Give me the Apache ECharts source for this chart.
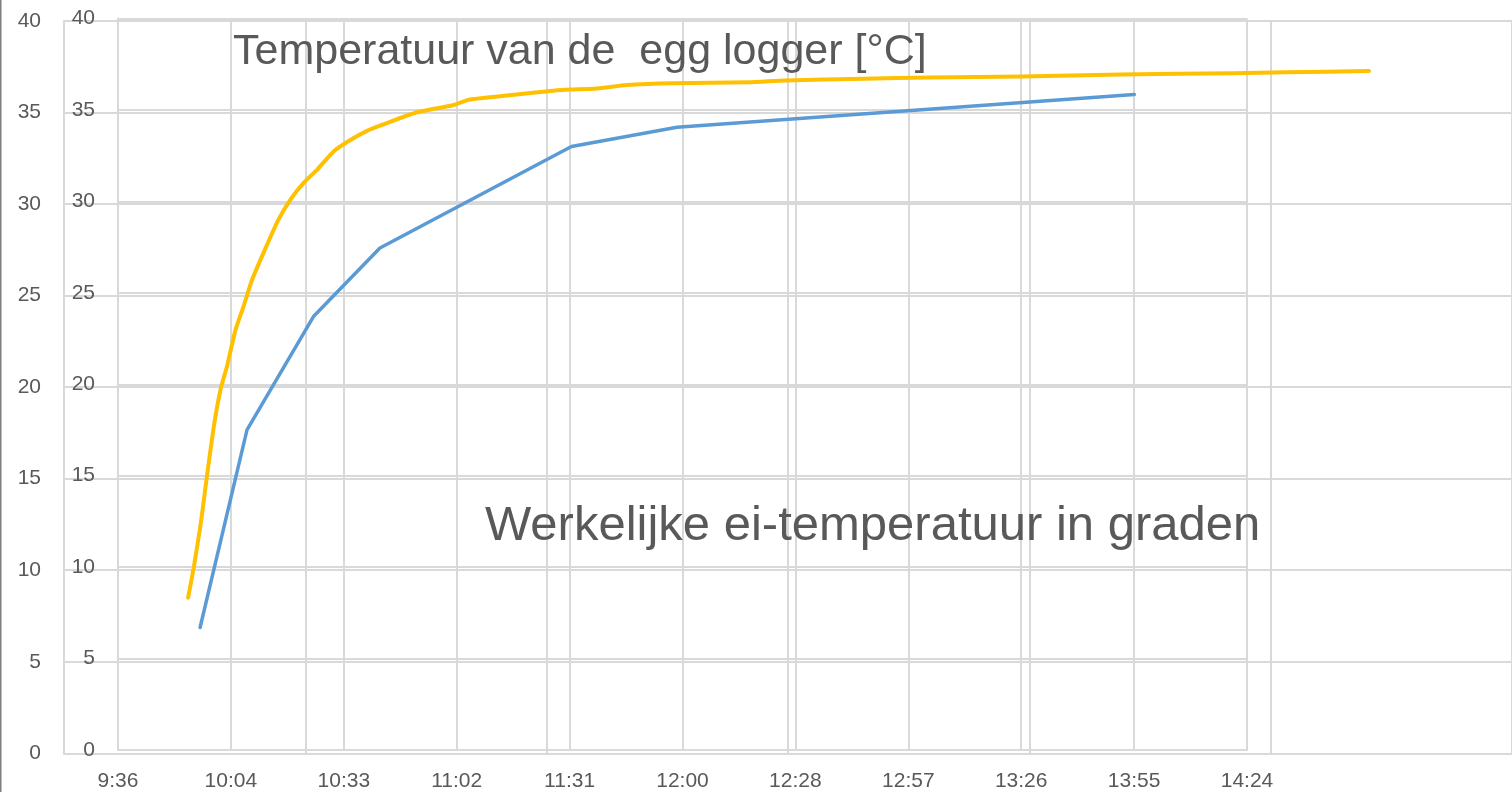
<!DOCTYPE html>
<html>
<head>
<meta charset="utf-8">
<script src="https://cdn.jsdelivr.net/npm/echarts@6/dist/echarts.min.js"></script>
<style>
html,body{margin:0;padding:0;background:#fff;}
#chart{width:1512px;height:792px;}
</style>
</head>
<body>
<div id="chart"></div>
<script>
// ---- data ----
const xTickLabels = ["9:36","10:04","10:33","11:02","11:31","12:00","12:28","12:57","13:26","13:55","14:24"];
const yTickMin = 0, yTickMax = 40, yTickStep = 5;

const loggerTitle = "Temperatuur van de  egg logger [°C]";
const eggTitle = "Werkelijke ei-temperatuur in graden";

// egg logger (yellow)
const loggerTimes = ["9:54:06","9:55:36","9:57:24","9:59:00","10:00:42","10:02:30","10:04:06","10:06:18","10:08:24","10:10:30",
  "10:13:54","10:17:18","10:20:42","10:24:06","10:27:30","10:31:48","10:36:00","10:40:18","10:44:30","10:53:00",
  "11:02:24","11:06:36","11:15:12","11:23:42","11:31:18","11:39:00","11:47:24","11:59:24","12:18:54","12:28:12",
  "12:48:42","13:05:42","13:29:24","13:54:54","14:23:54","14:37:30","14:59:00"];
const loggerValues = [8.5,10.2,12.6,15.2,17.8,19.9,21.1,23.1,24.4,25.8,
  27.5,29.1,30.3,31.2,31.9,32.9,33.5,34.0,34.35,35.0,
  35.4,35.7,35.9,36.1,36.25,36.3,36.5,36.6,36.65,36.75,
  36.85,36.92,36.97,37.08,37.15,37.2,37.27];

// real egg temperature (blue)
const eggTimes = ["9:57","10:09","10:26","10:43","11:32","11:59","13:56"];
const eggValues = [6.7,17.5,23.7,27.45,33.0,34.05,35.85];

// ---- helpers ----
function toMin(s){const p=s.split(":").map(Number);return p[0]*60+p[1]+(p[2]||0)/60;}
const xMin = toMin(xTickLabels[0]);
const xMax = toMin(xTickLabels[xTickLabels.length-1]) + 0.8; // 14:24:48
const xStep = (xMax - xMin)/(xTickLabels.length-1);

// layout
const W = 1512;
const innerL = 118, innerR = 1247;
const outerL = 64, outerR = 1525;
// logger grid shares the inner time scale but reaches to the outer plot's right edge
const xMaxLogger = xMin + (xMax - xMin) * (outerR - innerL) / (innerR - innerL);

const grey = '#595959';
const gridCol = '#d9d9d9';
const font = 'Liberation Sans';

const chart = echarts.init(document.getElementById('chart'));
chart.setOption({
  animation:false,
  backgroundColor:'#fff',
  textStyle:{fontFamily:font},
  title:[
    {text:loggerTitle,left:233,top:31,padding:0,textStyle:{fontSize:43,fontWeight:'normal',color:grey,fontFamily:font}},
    {text:eggTitle,left:485,top:502,padding:0,textStyle:{fontSize:49,fontWeight:'normal',color:grey,fontFamily:font}}
  ],
  grid:[
    {left:outerL,top:21,right:W-outerR,bottom:38.7},
    {left:innerL,top:18.5,right:W-innerR,bottom:41.1},
    {left:innerL,top:21,right:W-outerR,bottom:38.7}
  ],
  xAxis:[
    {gridIndex:0,type:'value',min:0,max:6,interval:1,
     axisLabel:{show:false},axisTick:{show:false},
     axisLine:{show:true,lineStyle:{color:gridCol,width:2}},
     splitLine:{show:true,lineStyle:{color:gridCol,width:2}}},
    {gridIndex:1,type:'value',min:xMin,max:xMax,interval:xStep,
     axisTick:{show:false},
     axisLine:{show:true,lineStyle:{color:gridCol,width:2}},
     splitLine:{show:true,lineStyle:{color:gridCol,width:2}},
     axisLabel:{color:grey,fontSize:21,margin:21,fontFamily:font,showMinLabel:true,showMaxLabel:true,
       formatter:function(v){return xTickLabels[Math.round((v-xMin)/xStep)]||'';}}},
    {gridIndex:2,type:'value',min:xMin,max:xMaxLogger,show:false}
  ],
  yAxis:[
    {gridIndex:0,type:'value',min:yTickMin,max:yTickMax,interval:yTickStep,
     axisTick:{show:false},
     axisLine:{show:true,lineStyle:{color:gridCol,width:2}},
     splitLine:{show:true,lineStyle:{color:gridCol,width:2}},
     axisLabel:{color:grey,fontSize:21,margin:23,fontFamily:font}},
    {gridIndex:1,type:'value',min:yTickMin,max:yTickMax,interval:yTickStep,
     axisTick:{show:false},
     axisLine:{show:true,lineStyle:{color:gridCol,width:2}},
     splitLine:{show:true,lineStyle:{color:gridCol,width:2}},
     axisLabel:{color:grey,fontSize:21,margin:23,fontFamily:font}},
    {gridIndex:2,type:'value',min:yTickMin,max:yTickMax,show:false}
  ],
  graphic:[
    {type:'line',shape:{x1:0.5,y1:0,x2:0.5,y2:792},style:{stroke:'#7f7f7f',lineWidth:2}}
  ],
  series:[
    {name:eggTitle,type:'line',xAxisIndex:1,yAxisIndex:1,showSymbol:false,
     data:eggTimes.map((t,i)=>[toMin(t),eggValues[i]]),
     lineStyle:{color:'#5b9bd5',width:3.5,cap:'round',join:'round'},z:3},
    {name:loggerTitle,type:'line',xAxisIndex:2,yAxisIndex:2,showSymbol:false,smooth:0.15,
     data:loggerTimes.map((t,i)=>[toMin(t),loggerValues[i]]),
     lineStyle:{color:'#ffc000',width:4,cap:'round',join:'round'},z:4}
  ]
});
</script>
</body>
</html>
